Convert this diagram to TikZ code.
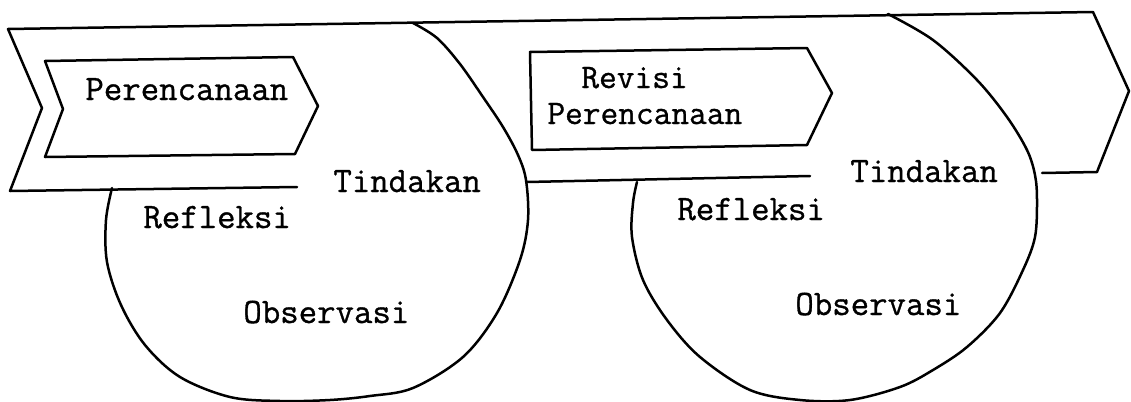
\documentclass[tikz,border=0pt]{standalone}
\usepackage{fontspec}
\newfontfamily\typefont[FakeBold=0.9]{Latin Modern Mono}
\begin{document}
\begin{tikzpicture}[x=0.5pt,y=-0.5pt,
  outline/.style={line width=1.25pt, line join=round, line cap=round},
  lbl/.style={font=\fontsize{17.9pt}{15pt}\selectfont\typefont, anchor=base west,
    inner sep=0pt}]
\useasboundingbox (0,0) rectangle (1131,402);

% outer band (chevron) with its lower edge segments
\draw[outline] (297,187) -- (10,191) -- (42,108) -- (8,29) -- (1093,12)
  -- (1129,91) -- (1097,172) -- (1042,173);
\draw[outline] (527,182) -- (810,176);

% first planning box
\draw[outline] (45,61) -- (293,57) -- (318,106) -- (295,154) -- (45,157) -- (63,109) -- cycle;
% revised planning box
\draw[outline] (530,52) -- (807,48) -- (832,93) -- (807,145) -- (532,150) -- cycle;

% first cycle
\draw[outline] plot[smooth, tension=0.55] coordinates {
  (112,188) (106,220) (107,262) (121,305) (145,345) (180,377) (230,397)
  (280,401) (330,400) (370,396) (413,388) (463,357) (497,313) (520,260)
  (528,220) (526,180) (518,155) (503,127) (483,97) (460,64) (437,38) (413,23)};

% second cycle
\draw[outline] plot[smooth, tension=0.55] coordinates {
  (637,182) (633,203) (632,237) (643,280) (667,320) (700,357) (750,390)
  (800,400) (850,400) (900,387) (933,370) (967,347) (1000,313) (1023,270)
  (1035,237) (1037,200) (1035,175) (1027,150) (1007,117) (977,80)
  (933,40) (888,14)};

% labels
\node[lbl] (plan1) at (85,100) {Perencanaan};
\node[lbl] (act1)  at (333,192) {Tindakan};
\node[lbl] (ref1)  at (143,228) {Refleksi};
\node[lbl] (obs1)  at (243,323) {Observasi};

\node[lbl, font=\fontsize{17.2pt}{17.5pt}\selectfont\typefont] (rev) at (581,88) {Revisi};
\node[lbl, font=\fontsize{17.2pt}{17.5pt}\selectfont\typefont] (plan2) at (547,124) {Perencanaan};
\node[lbl] (act2)  at (850,182) {Tindakan};
\node[lbl] (ref2)  at (677,220) {Refleksi};
\node[lbl] (obs2)  at (795,315) {Observasi};
\end{tikzpicture}
\end{document}
